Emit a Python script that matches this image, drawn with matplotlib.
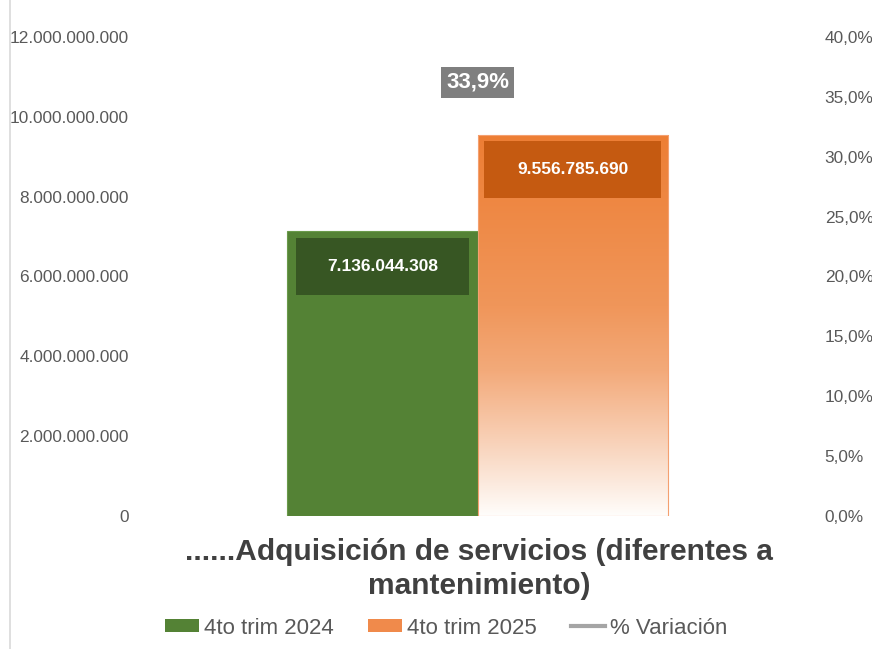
import numpy as np
import matplotlib
matplotlib.use("Agg")
import matplotlib.pyplot as plt
from matplotlib.patches import Rectangle, Patch
from matplotlib.lines import Line2D
from matplotlib.ticker import FuncFormatter, MultipleLocator

# ---- data ----
categories = ["......Adquisición de servicios (diferentes a\nmantenimiento)"]
series_names = ["4to trim 2024", "4to trim 2025", "% Variación"]
values_2024 = [7136044308]
values_2025 = [9556785690]
variation_pct = [33.9]

FONT = ["Liberation Sans", "DejaVu Sans"]
plt.rcParams["font.family"] = FONT
TXT = "#595959"
GREEN = "#548235"
GREEN_DK = "#375623"
ORANGE = "#ED7D31"
ORANGE_DK = "#C55A11"
GREY = "#7F7F7F"

fig = plt.figure(figsize=(8.72, 6.49), dpi=100)
ax = fig.add_axes([140/872, 1-516/649, (815-140)/872, (516-37)/649])
ax2 = ax.twinx()

x = np.arange(len(categories))
w = 0.2815
ax.set_xlim(-0.5, 0.5)
ax.set_ylim(0, 12e9)
ax2.set_ylim(0, 40)

b1 = ax.bar(x - w/2, values_2024, width=w, color=GREEN, edgecolor="#6A9A4A", linewidth=0.8, zorder=2)
b2 = ax.bar(x + w/2, values_2025, width=w, color="none", edgecolor="#F4A070", linewidth=0.8, zorder=3)

# gradient fill for 2025 bars
stops_pos = [0.0, 0.45, 0.62, 0.8, 1.0]      # fraction from top
stops_col = np.array([[237, 126, 52], [240, 150, 90], [243, 170, 122],
                      [248, 208, 182], [255, 253, 251]]) / 255.0
N = 256
t = np.linspace(0, 1, N)
grad = np.stack([np.interp(t, stops_pos, stops_col[:, k]) for k in range(3)], axis=-1)[:, None, :]
for rect in b2:
    x0 = rect.get_x(); x1 = x0 + rect.get_width(); h = rect.get_height()
    im = ax.imshow(grad, extent=[x0, x1, 0, h], aspect="auto", origin="upper", zorder=2)
    im.set_clip_path(rect)
ax.set_xlim(-0.5, 0.5)
ax.set_ylim(0, 12e9)

# value label boxes
def value_box(rect, val, fc, mx):
    x0 = rect.get_x(); wd = rect.get_width()
    top = val - 0.16e9
    hgt = 1.44e9
    ax.add_patch(Rectangle((x0 + mx, top - hgt), wd - 2*mx, hgt, facecolor=fc, edgecolor="none", zorder=4))
    ax.text(x0 + wd/2, top - hgt/2, f"{val:,.0f}".replace(",", "."), ha="center", va="center",
            color="white", fontsize=12.5, fontweight="bold", zorder=5)

for r, v in zip(b1, values_2024):
    value_box(r, v, GREEN_DK, 0.013)
for r, v in zip(b2, values_2025):
    value_box(r, v, ORANGE_DK, 0.009)

# % variation series on secondary axis
ax2.plot(x, variation_pct, color="#A5A5A5", linewidth=2.5)
for xi, p in zip(x, variation_pct):
    ax2.annotate(f"{p:.1f}%".replace(".", ","), (xi, p), xytext=(0, 20), textcoords="offset points",
                 ha="center", va="center", color="white", fontsize=16, fontweight="bold",
                 bbox=dict(boxstyle="square,pad=0.22", facecolor=GREY, edgecolor="none"))

# axes styling
ax.yaxis.set_major_locator(MultipleLocator(2e9))
ax.yaxis.set_major_formatter(FuncFormatter(lambda v, p: f"{v:,.0f}".replace(",", ".")))
ax2.yaxis.set_major_locator(MultipleLocator(5))
ax2.yaxis.set_major_formatter(FuncFormatter(lambda v, p: f"{v:.1f}%".replace(".", ",")))
for a in (ax, ax2):
    for s in a.spines.values():
        s.set_visible(False)
    a.tick_params(axis="y", length=0, labelsize=12.4, labelcolor=TXT)
ax.tick_params(axis="y", pad=8)
ax2.tick_params(axis="y", pad=7)
ax.set_xticks([])

# category title
fig.text(479/872, 1-569/649, categories[0], ha="center", va="center", fontsize=21.5,
         fontweight="bold", color="#404040", linespacing=1.3)

# legend
handles = [Patch(facecolor=GREEN, edgecolor="none"),
           Patch(facecolor="#F08A4B", edgecolor="none"),
           Line2D([0], [0], color="#A5A5A5", linewidth=3)]
fig.legend(handles, series_names, loc="center", bbox_to_anchor=(446/872, 1-628/649), ncol=3,
           frameon=False, fontsize=16, labelcolor=TXT, handlelength=1.53, handleheight=0.55,
           handletextpad=0.22, columnspacing=1.55)

# left border line
fig.add_artist(Line2D([10/872, 10/872], [0, 1], color="#D9D9D9", linewidth=1.2))

fig.savefig("out.png", dpi=100)
